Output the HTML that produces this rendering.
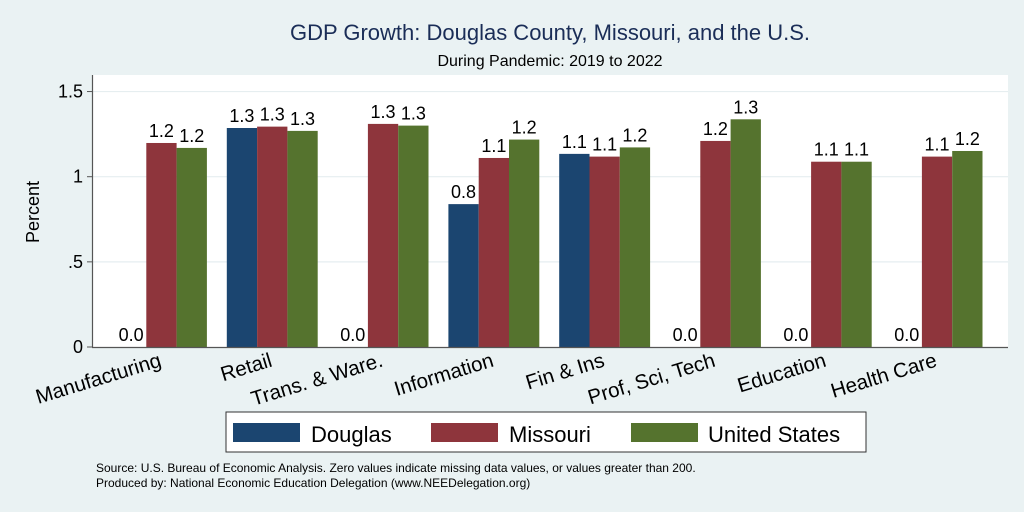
<!DOCTYPE html>
<html><head><meta charset="utf-8"><style>
body{margin:0;background:#eaf2f3;}
svg{display:block;font-family:"Liberation Sans",Arial,sans-serif;}
</style></head><body>
<svg id="chart" width="1024" height="512">
<rect x="0" y="0" width="1024" height="512" fill="#eaf2f3"/>
<rect x="92" y="75" width="916" height="272" fill="#ffffff"/>
<text x="550" y="40" text-anchor="middle" font-size="22" fill="#1a2d57">GDP Growth: Douglas County, Missouri, and the U.S.</text>
<text x="550" y="66" text-anchor="middle" font-size="16" fill="#000">During Pandemic: 2019 to 2022</text>
<text transform="translate(39,212) rotate(-90)" text-anchor="middle" font-size="18">Percent</text>
<g id="grid"></g><g id="bars"></g><g id="xlabels"></g>
<line x1="92.5" y1="75" x2="92.5" y2="347" stroke="#555" stroke-width="1.2"/>
<line x1="92" y1="347.5" x2="1008" y2="347.5" stroke="#555" stroke-width="1.2"/>
<g>
<rect x="226" y="412" width="640" height="40" fill="#fff" stroke="#333" stroke-width="1"/>
<rect x="233" y="423" width="67" height="19" fill="#1b4570"/>
<text x="311" y="442" font-size="22">Douglas</text>
<rect x="431" y="423" width="67" height="19" fill="#8e353c"/>
<text x="509" y="442" font-size="22">Missouri</text>
<rect x="631" y="423" width="67" height="19" fill="#55732e"/>
<text x="708" y="442" font-size="22">United States</text>
</g>
<text x="96" y="472" font-size="12">Source: U.S. Bureau of Economic Analysis. Zero values indicate missing data values, or values greater than 200.</text>
<text x="96" y="487" font-size="12">Produced by: National Economic Education Delegation (www.NEEDelegation.org)</text>
</svg>
<script>
const categories=["Manufacturing","Retail","Trans. & Ware.","Information","Fin & Ins","Prof, Sci, Tech","Education","Health Care"];
const douglas=[0,1.286,0,0.839,1.134,0,0,0];
const missouri=[1.198,1.294,1.31,1.11,1.118,1.21,1.088,1.118];
const unitedStates=[1.169,1.269,1.30,1.218,1.172,1.337,1.088,1.151];
const yTicks=[0,0.5,1,1.5];
const yTickLabels=["0",".5","1","1.5"];
const NS="http://www.w3.org/2000/svg";
function y(v){return 347-v*170.3;}
function gx(i){return 116+i*110.8;}
const BW=30.3;
function mk(tag,attrs,parent){const e=document.createElementNS(NS,tag);for(const k in attrs)e.setAttribute(k,attrs[k]);parent.appendChild(e);return e;}
const grid=document.getElementById('grid');
yTicks.forEach((t,i)=>{
  if(t>0){const g=mk('line',{x1:93,x2:1008,y1:y(t),y2:y(t),stroke:'#e6eef0','stroke-width':1.2},grid);
  
  }
  const tk=mk('line',{x1:87,x2:92,y1:y(t),y2:y(t),stroke:'#555'},grid);
  
  
  const tl=mk('text',{x:83,y:y(t)+6,'text-anchor':'end','font-size':18},grid);
  tl.textContent=yTickLabels[i];
  
  
});
const bars=document.getElementById('bars');
const series=[[douglas,'#1b4570','douglas'],[missouri,'#8e353c','missouri'],[unitedStates,'#55732e','united-states']];
categories.forEach((c,i)=>{
  series.forEach((s,j)=>{
    const v=s[0][i];const x=gx(i)+j*BW;
    if(v>0){const r=mk('rect',{x:x,y:y(v),width:BW,height:347-y(v),fill:s[1]},bars);
    
    }
    const t=mk('text',{x:x+BW/2,y:y(v)-6,'text-anchor':'middle','font-size':18},bars);
    t.textContent=v.toFixed(1);
    
    
  });
  const cx=gx(i)+BW*1.5+1;const ly=366;
  const xl=mk('text',{x:cx,y:ly,'text-anchor':'end','font-size':20.5,transform:'rotate(-17 '+cx+' '+ly+')'},document.getElementById('xlabels'));
  xl.textContent=c;
  
  
});
</script>
</body></html>
